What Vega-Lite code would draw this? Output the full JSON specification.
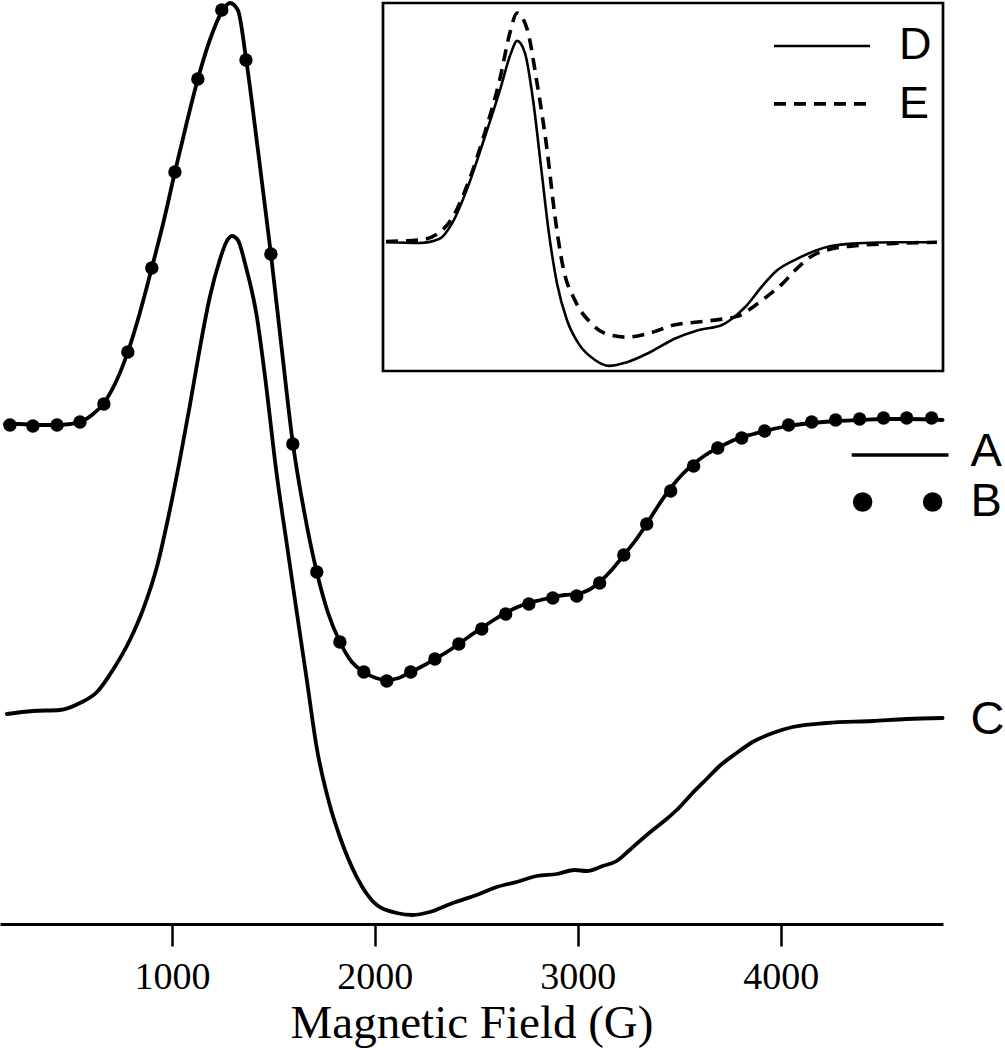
{
  "$schema": "https://vega.github.io/schema/vega-lite/v6.json",
  "width": 943,
  "height": 924,
  "autosize": "none",
  "padding": {"left": 0, "top": 0, "right": 62, "bottom": 126},
  "background": "white",
  "config": {"view": {"stroke": null}, "font": "Liberation Sans"},
  "datasets": {
    "A": [
      {"G":177,"signal":5.00},{"G":251,"signal":5.00},{"G":350,"signal":4.99},{"G":448,"signal":4.99},{"G":547,"signal":5.02},{"G":606,"signal":5.09},{"G":665,"signal":5.21},{"G":724,"signal":5.42},{"G":783,"signal":5.72},{"G":842,"signal":6.11},{"G":901,"signal":6.56},{"G":961,"signal":7.04},{"G":1015,"signal":7.52},{"G":1074,"signal":8.02},{"G":1128,"signal":8.45},{"G":1187,"signal":8.84},{"G":1246,"signal":9.12},{"G":1286,"signal":9.21},{"G":1325,"signal":9.14},{"G":1365,"signal":8.66},{"G":1424,"signal":7.74},{"G":1488,"signal":6.70},{"G":1542,"signal":5.74},{"G":1596,"signal":4.81},{"G":1655,"signal":4.09},{"G":1714,"signal":3.52},{"G":1768,"signal":3.12},{"G":1828,"signal":2.82},{"G":1887,"signal":2.62},{"G":1946,"signal":2.52},{"G":2005,"signal":2.46},{"G":2059,"signal":2.44},{"G":2118,"signal":2.46},{"G":2177,"signal":2.52},{"G":2236,"signal":2.58},{"G":2296,"signal":2.65},{"G":2355,"signal":2.72},{"G":2414,"signal":2.80},{"G":2468,"signal":2.88},{"G":2527,"signal":2.96},{"G":2586,"signal":3.04},{"G":2645,"signal":3.11},{"G":2704,"signal":3.17},{"G":2759,"signal":3.21},{"G":2818,"signal":3.24},{"G":2877,"signal":3.27},{"G":2936,"signal":3.29},{"G":2995,"signal":3.30},{"G":3054,"signal":3.34},{"G":3108,"signal":3.42},{"G":3167,"signal":3.54},{"G":3227,"signal":3.69},{"G":3286,"signal":3.84},{"G":3340,"signal":4.00},{"G":3399,"signal":4.19},{"G":3458,"signal":4.36},{"G":3517,"signal":4.50},{"G":3571,"signal":4.60},{"G":3630,"signal":4.69},{"G":3690,"signal":4.76},{"G":3749,"signal":4.82},{"G":3808,"signal":4.87},{"G":3867,"signal":4.90},{"G":3921,"signal":4.93},{"G":4039,"signal":4.98},{"G":4153,"signal":5.01},{"G":4271,"signal":5.03},{"G":4389,"signal":5.04},{"G":4507,"signal":5.05},{"G":4621,"signal":5.05},{"G":4798,"signal":5.04}
    ],
    "B": [
      {"G":202,"signal":4.99},{"G":315,"signal":4.98},{"G":434,"signal":4.99},{"G":547,"signal":5.02},{"G":665,"signal":5.20},{"G":783,"signal":5.72},{"G":901,"signal":6.56},{"G":1015,"signal":7.52},{"G":1128,"signal":8.45},{"G":1246,"signal":9.14},{"G":1365,"signal":8.64},{"G":1488,"signal":6.70},{"G":1596,"signal":4.80},{"G":1714,"signal":3.52},{"G":1828,"signal":2.82},{"G":1946,"signal":2.52},{"G":2059,"signal":2.43},{"G":2177,"signal":2.52},{"G":2296,"signal":2.65},{"G":2414,"signal":2.80},{"G":2527,"signal":2.95},{"G":2645,"signal":3.10},{"G":2759,"signal":3.20},{"G":2877,"signal":3.26},{"G":2995,"signal":3.28},{"G":3108,"signal":3.41},{"G":3227,"signal":3.69},{"G":3340,"signal":4.00},{"G":3458,"signal":4.33},{"G":3571,"signal":4.58},{"G":3690,"signal":4.76},{"G":3808,"signal":4.86},{"G":3921,"signal":4.93},{"G":4039,"signal":4.99},{"G":4153,"signal":5.02},{"G":4271,"signal":5.04},{"G":4389,"signal":5.05},{"G":4507,"signal":5.06},{"G":4621,"signal":5.06},{"G":4744,"signal":5.06}
    ],
    "C": [
      {"G":187,"signal":2.10},{"G":315,"signal":2.13},{"G":448,"signal":2.14},{"G":547,"signal":2.21},{"G":631,"signal":2.32},{"G":709,"signal":2.54},{"G":793,"signal":2.84},{"G":857,"signal":3.14},{"G":926,"signal":3.57},{"G":990,"signal":4.14},{"G":1039,"signal":4.64},{"G":1089,"signal":5.19},{"G":1138,"signal":5.76},{"G":1187,"signal":6.27},{"G":1236,"signal":6.64},{"G":1266,"signal":6.81},{"G":1296,"signal":6.88},{"G":1325,"signal":6.84},{"G":1360,"signal":6.61},{"G":1419,"signal":6.07},{"G":1458,"signal":5.49},{"G":1517,"signal":4.49},{"G":1567,"signal":3.79},{"G":1616,"signal":3.11},{"G":1665,"signal":2.44},{"G":1714,"signal":1.76},{"G":1778,"signal":1.19},{"G":1828,"signal":0.87},{"G":1911,"signal":0.47},{"G":2010,"signal":0.19},{"G":2108,"signal":0.11},{"G":2187,"signal":0.09},{"G":2271,"signal":0.12},{"G":2384,"signal":0.21},{"G":2502,"signal":0.29},{"G":2601,"signal":0.37},{"G":2699,"signal":0.42},{"G":2798,"signal":0.48},{"G":2897,"signal":0.50},{"G":2985,"signal":0.54},{"G":3044,"signal":0.53},{"G":3123,"signal":0.58},{"G":3192,"signal":0.63},{"G":3256,"signal":0.74},{"G":3340,"signal":0.89},{"G":3370,"signal":0.94},{"G":3438,"signal":1.05},{"G":3488,"signal":1.14},{"G":3566,"signal":1.31},{"G":3635,"signal":1.45},{"G":3699,"signal":1.58},{"G":3783,"signal":1.71},{"G":3862,"signal":1.82},{"G":3961,"signal":1.91},{"G":4059,"signal":1.97},{"G":4227,"signal":2.01},{"G":4453,"signal":2.03},{"G":4621,"signal":2.05},{"G":4798,"signal":2.06}
    ],
    "D": [
      {"G":178,"signal":3.50},{"G":460,"signal":3.48},{"G":626,"signal":3.60},{"G":726,"signal":4.01},{"G":858,"signal":5.01},{"G":991,"signal":6.29},{"G":1124,"signal":7.64},{"G":1215,"signal":8.64},{"G":1265,"signal":8.97},{"G":1331,"signal":8.64},{"G":1398,"signal":7.37},{"G":1464,"signal":5.56},{"G":1530,"signal":3.74},{"G":1597,"signal":2.38},{"G":1680,"signal":1.38},{"G":1779,"signal":0.73},{"G":1912,"signal":0.30},{"G":2028,"signal":0.14},{"G":2178,"signal":0.24},{"G":2369,"signal":0.51},{"G":2568,"signal":0.87},{"G":2767,"signal":1.11},{"G":2966,"signal":1.25},{"G":3032,"signal":1.38},{"G":3165,"signal":1.76},{"G":3298,"signal":2.30},{"G":3414,"signal":2.71},{"G":3597,"signal":3.06},{"G":3862,"signal":3.39},{"G":4095,"signal":3.47},{"G":4426,"signal":3.50},{"G":4750,"signal":3.50}
    ],
    "E": [
      {"G":178,"signal":3.52},{"G":460,"signal":3.56},{"G":593,"signal":3.70},{"G":726,"signal":4.15},{"G":858,"signal":5.10},{"G":991,"signal":6.40},{"G":1124,"signal":7.95},{"G":1207,"signal":9.20},{"G":1265,"signal":9.73},{"G":1348,"signal":9.30},{"G":1431,"signal":7.83},{"G":1514,"signal":6.02},{"G":1580,"signal":4.20},{"G":1647,"signal":2.82},{"G":1746,"signal":1.92},{"G":1879,"signal":1.30},{"G":2012,"signal":1.00},{"G":2178,"signal":0.92},{"G":2369,"signal":1.03},{"G":2568,"signal":1.25},{"G":2767,"signal":1.33},{"G":2966,"signal":1.41},{"G":3099,"signal":1.49},{"G":3232,"signal":1.76},{"G":3364,"signal":2.09},{"G":3464,"signal":2.36},{"G":3564,"signal":2.71},{"G":3696,"signal":3.09},{"G":3862,"signal":3.31},{"G":4095,"signal":3.41},{"G":4426,"signal":3.47},{"G":4750,"signal":3.50}
    ]
  },
  "layer": [
    {
      "layer": [
        {
          "data": {"name": "A"},
          "mark": {"type": "line", "color": "black", "strokeWidth": 3.8, "interpolate": "monotone", "strokeCap": "round"},
          "encoding": {
            "x": {"field": "G", "type": "quantitative", "scale": {"domain": [153, 4800], "nice": false, "zero": false},
              "axis": {"values": [1000, 2000, 3000, 4000], "format": "d", "title": "Magnetic Field (G)", "grid": false,
                "domainColor": "black", "domainWidth": 3, "tickColor": "black", "tickWidth": 2.5, "tickSize": 22,
                "labelFont": "Liberation Serif", "labelFontSize": 38, "labelColor": "black", "labelPadding": 12,
                "titleFont": "Liberation Serif", "titleFontSize": 47, "titleFontWeight": "normal", "titleColor": "black",
                "titleBaseline": "alphabetic", "titleY": 113}},
            "y": {"field": "signal", "type": "quantitative", "scale": {"domain": [0, 9.24], "nice": false, "zero": false}, "axis": null}
          }
        },
        {
          "data": {"name": "B"},
          "mark": {"type": "point", "filled": true, "color": "black", "opacity": 1, "size": 180},
          "encoding": {
            "x": {"field": "G", "type": "quantitative"},
            "y": {"field": "signal", "type": "quantitative"}
          }
        },
        {
          "data": {"name": "C"},
          "mark": {"type": "line", "color": "black", "strokeWidth": 3.8, "interpolate": "monotone", "strokeCap": "round"},
          "encoding": {
            "x": {"field": "G", "type": "quantitative"},
            "y": {"field": "signal", "type": "quantitative"}
          }
        },
        {
          "data": {"values": [{}]},
          "mark": {"type": "rule", "color": "black", "strokeWidth": 3.5},
          "encoding": {"x": {"datum": 4350}, "x2": {"datum": 4827}, "y": {"datum": 4.69}}
        },
        {
          "data": {"values": [{}]},
          "mark": {"type": "point", "filled": true, "color": "black", "opacity": 1, "size": 380},
          "encoding": {"x": {"datum": 4404}, "y": {"datum": 4.22}}
        },
        {
          "data": {"values": [{}]},
          "mark": {"type": "point", "filled": true, "color": "black", "opacity": 1, "size": 380},
          "encoding": {"x": {"datum": 4749}, "y": {"datum": 4.22}}
        },
        {
          "data": {"values": [{}]},
          "mark": {"type": "text", "text": "A", "align": "left", "baseline": "middle", "font": "Liberation Sans", "fontSize": 47, "color": "black"},
          "encoding": {"x": {"datum": 4935}, "y": {"datum": 4.72}}
        },
        {
          "data": {"values": [{}]},
          "mark": {"type": "text", "text": "B", "align": "left", "baseline": "middle", "font": "Liberation Sans", "fontSize": 47, "color": "black"},
          "encoding": {"x": {"datum": 4935}, "y": {"datum": 4.22}}
        },
        {
          "data": {"values": [{}]},
          "mark": {"type": "text", "text": "C", "align": "left", "baseline": "middle", "font": "Liberation Sans", "fontSize": 47, "color": "black"},
          "encoding": {"x": {"datum": 4935}, "y": {"datum": 2.04}}
        }
      ]
    },
    {
      "layer": [
        {
          "data": {"values": [{}]},
          "mark": {"type": "rect", "fill": null, "fillOpacity": 0, "stroke": "black", "strokeWidth": 2.7},
          "encoding": {
            "x": {"datum": 153, "type": "quantitative", "scale": {"domain": [153, 4800], "range": [383, 943], "nice": false, "zero": false}, "axis": null},
            "x2": {"datum": 4800},
            "y": {"datum": 0, "type": "quantitative", "scale": {"domain": [0, 10], "range": [371, 3], "nice": false, "zero": false}, "axis": null},
            "y2": {"datum": 10}
          }
        },
        {
          "data": {"name": "D"},
          "mark": {"type": "line", "color": "black", "strokeWidth": 2.6, "interpolate": "monotone"},
          "encoding": {
            "x": {"field": "G", "type": "quantitative"},
            "y": {"field": "signal", "type": "quantitative"}
          }
        },
        {
          "data": {"name": "E"},
          "mark": {"type": "line", "color": "black", "strokeWidth": 3.6, "interpolate": "monotone", "strokeDash": [12, 8]},
          "encoding": {
            "x": {"field": "G", "type": "quantitative"},
            "y": {"field": "signal", "type": "quantitative"}
          }
        },
        {
          "data": {"values": [{}]},
          "mark": {"type": "rule", "color": "black", "strokeWidth": 2.6},
          "encoding": {"x": {"datum": 3397}, "x2": {"datum": 4194}, "y": {"datum": 8.83}}
        },
        {
          "data": {"values": [{}]},
          "mark": {"type": "rule", "color": "black", "strokeWidth": 3.6, "strokeDash": [12, 8]},
          "encoding": {"x": {"datum": 3397}, "x2": {"datum": 4194}, "y": {"datum": 7.26}}
        },
        {
          "data": {"values": [{}]},
          "mark": {"type": "text", "text": "D", "align": "left", "baseline": "middle", "font": "Liberation Sans", "fontSize": 45, "color": "black"},
          "encoding": {"x": {"datum": 4435}, "y": {"datum": 8.86}}
        },
        {
          "data": {"values": [{}]},
          "mark": {"type": "text", "text": "E", "align": "left", "baseline": "middle", "font": "Liberation Sans", "fontSize": 45, "color": "black"},
          "encoding": {"x": {"datum": 4435}, "y": {"datum": 7.26}}
        }
      ]
    }
  ],
  "resolve": {"scale": {"x": "independent", "y": "independent"}, "axis": {"x": "independent", "y": "independent"}}
}
